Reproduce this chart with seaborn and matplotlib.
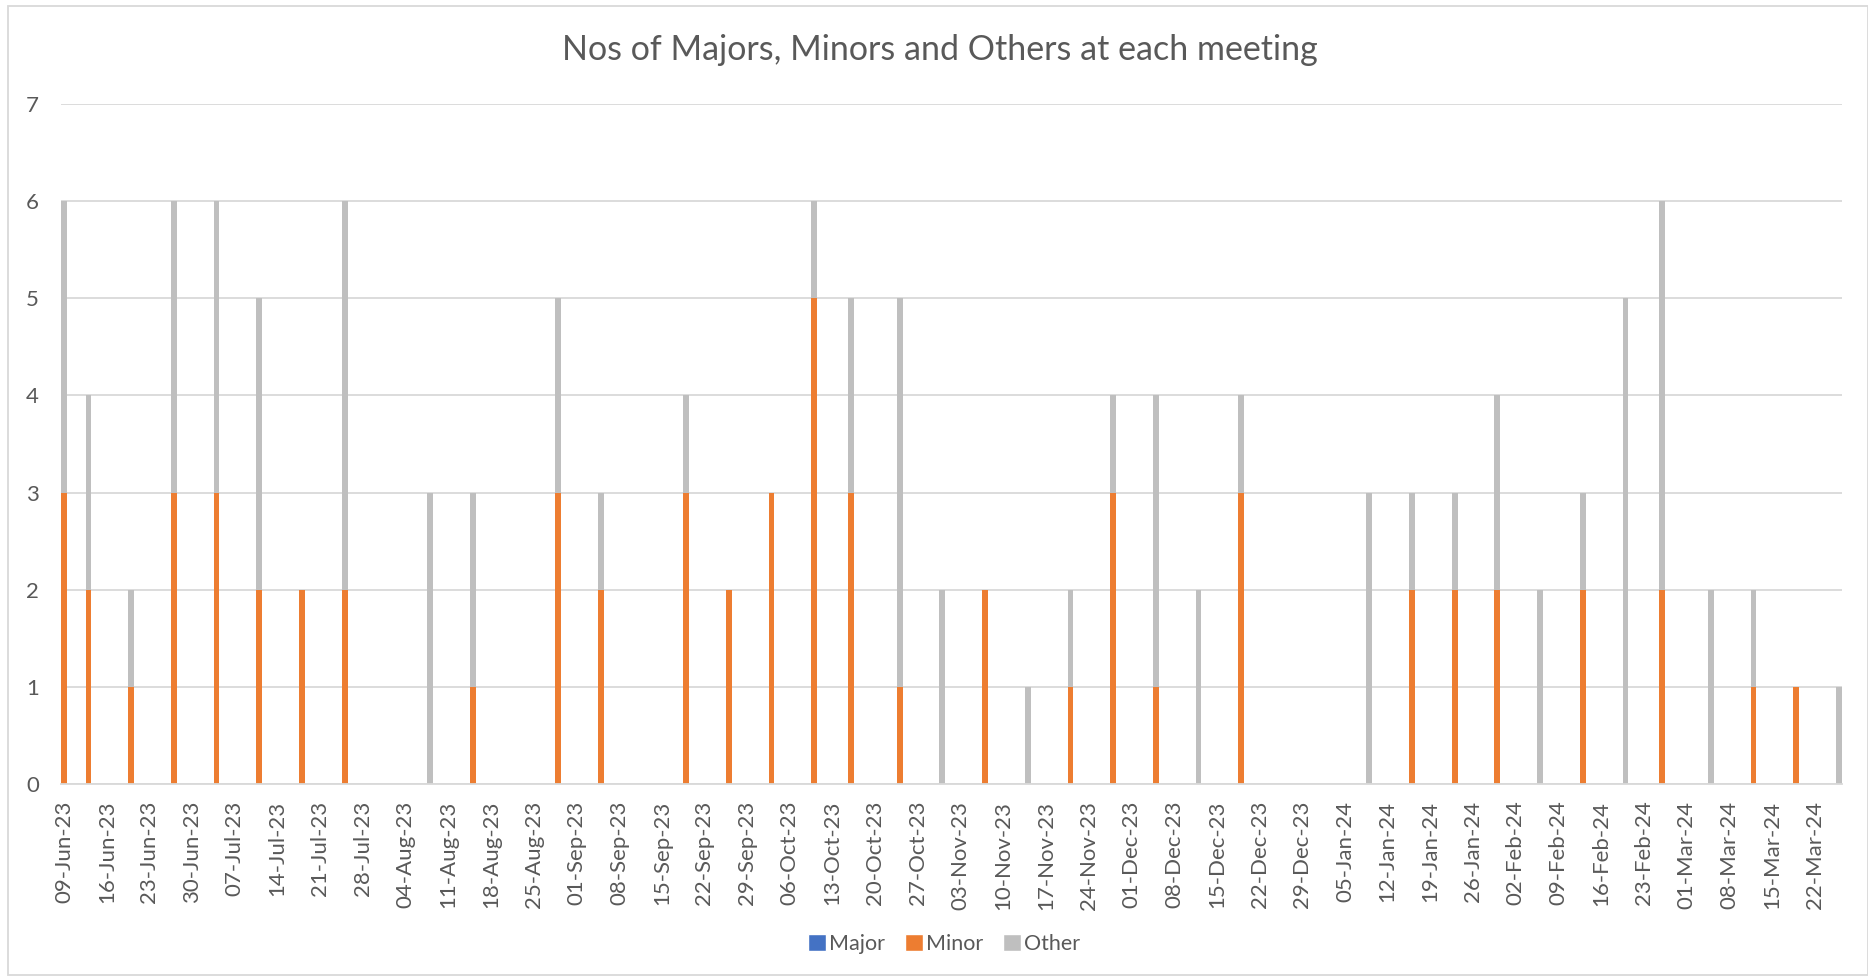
import numpy as np
import pandas as pd
import matplotlib.pyplot as plt
import matplotlib.dates as mdates
from matplotlib.patches import Patch, Rectangle
import seaborn as sns

# meeting dates and counts per category
dates = ["09-Jun-23", "13-Jun-23", "20-Jun-23", "27-Jun-23", "04-Jul-23", "11-Jul-23",
         "18-Jul-23", "25-Jul-23", "08-Aug-23", "15-Aug-23", "29-Aug-23", "05-Sep-23",
         "19-Sep-23", "26-Sep-23", "03-Oct-23", "10-Oct-23", "16-Oct-23", "24-Oct-23",
         "31-Oct-23", "07-Nov-23", "14-Nov-23", "21-Nov-23", "28-Nov-23", "05-Dec-23",
         "12-Dec-23", "19-Dec-23", "09-Jan-24", "16-Jan-24", "23-Jan-24", "30-Jan-24",
         "06-Feb-24", "13-Feb-24", "20-Feb-24", "26-Feb-24", "05-Mar-24", "12-Mar-24",
         "19-Mar-24", "26-Mar-24"]
major = [0] * len(dates)
minor = [3, 2, 1, 3, 3, 2, 2, 2, 0, 1, 3, 2, 3, 2, 3, 5, 3, 1, 0, 2, 0, 1, 3, 1,
         0, 3, 0, 2, 2, 2, 0, 2, 0, 2, 0, 1, 1, 0]
other = [3, 2, 1, 3, 3, 3, 0, 4, 3, 2, 2, 1, 1, 0, 0, 1, 2, 4, 2, 0, 1, 1, 1, 3,
         2, 1, 3, 1, 1, 2, 2, 1, 5, 4, 2, 1, 0, 1]

colors = {"Major": "#4472C4", "Minor": "#ED7D31", "Other": "#BFBFBF"}
text_col = "#595959"

day = mdates.date2num(pd.to_datetime(dates, format="%d-%b-%y"))
df = pd.concat([
    pd.DataFrame({"day": day, "type": name, "count": vals})
    for name, vals in [("Major", major), ("Minor", minor), ("Other", other)]
])

sns.set_style("white")
plt.rcParams["font.family"] = ["Lato", "DejaVu Sans"]

fig = plt.figure(figsize=(18.68, 9.77), dpi=100)
ax = fig.add_axes([61 / 1868, 1 - 784 / 977, (1842 - 61) / 1868, (784 - 104) / 977])

sns.histplot(data=df, x="day", weights="count", hue="type",
             hue_order=["Other", "Minor", "Major"], palette=colors,
             multiple="stack", discrete=True, shrink=0.95, alpha=1,
             linewidth=0, legend=False, ax=ax)

ax.set_xlim(day[0] - 0.5, day[-1] + 0.5)
ax.set_ylim(0, 7)
ax.set_yticks(range(0, 8))
ax.xaxis.set_major_locator(plt.FixedLocator(np.arange(day[0], day[-1] + 1, 7)))
ax.xaxis.set_major_formatter(mdates.DateFormatter("%d-%b-%y"))
ax.tick_params(axis="x", length=0, pad=12, labelsize=16, labelcolor=text_col,
               labelrotation=90)
ax.tick_params(axis="y", length=0, pad=16, labelsize=16, labelcolor=text_col)
ax.set_xlabel("")
ax.set_ylabel("")
ax.grid(axis="y", color="#D9D9D9", linewidth=1.3)
ax.set_axisbelow(True)
for s in ["top", "right", "left"]:
    ax.spines[s].set_visible(False)
ax.spines["bottom"].set_color("#D9D9D9")
ax.spines["bottom"].set_linewidth(1.3)

fig.text(940 / 1868, 1 - 50 / 977, "Nos of Majors, Minors and Others at each meeting",
         ha="center", va="center", fontsize=24.5, color=text_col)

handles = [Patch(facecolor=colors[k], label=k) for k in ["Major", "Minor", "Other"]]
fig.legend(handles=handles, loc="center", bbox_to_anchor=(944 / 1868, 1 - 944 / 977),
           ncol=3, frameon=False, fontsize=15.5, labelcolor=text_col,
           handlelength=0.85, handleheight=0.85, handletextpad=0.15, columnspacing=0.9)

fig.patches.append(Rectangle((8 / 1868, 2 / 977), 1 - 8 / 1868, 1 - 8 / 977,
                             transform=fig.transFigure, fill=False,
                             edgecolor="#D9D9D9", linewidth=1.3))

plt.savefig("out.png", dpi=100)
